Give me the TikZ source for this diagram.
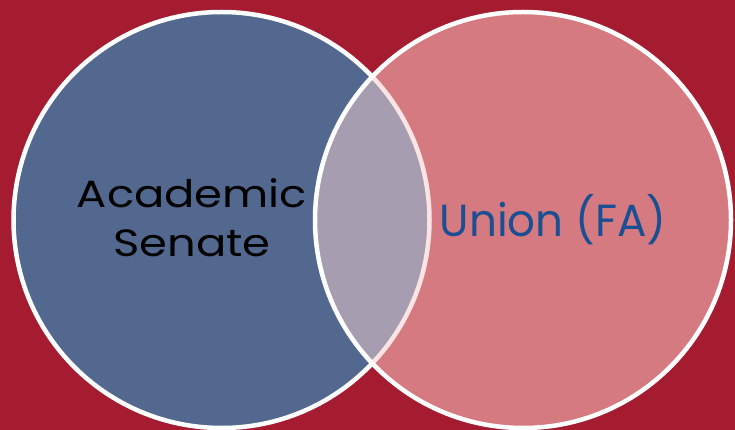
\documentclass[tikz,border=0pt]{standalone}
\usepackage{fontspec}
\setmainfont{Poppins}
\newfontfamily\senfont[FakeStretch=1.18]{Poppins}
\newfontfamily\unifont[FakeStretch=0.97]{Poppins}
\definecolor{bgred}{RGB}{165,28,48}
\definecolor{senblue}{RGB}{83,104,143}
\definecolor{unipink}{RGB}{212,122,128}
\definecolor{lavender}{RGB}{166,157,177}
\definecolor{palepink}{RGB}{252,228,228}
\definecolor{textblue}{RGB}{27,79,147}
\tikzset{
  ring/.style={line width=4.5pt},
}
\begin{document}
\begin{tikzpicture}[x=1pt,y=-1pt]
\fill[bgred] (0,0) rectangle (735,430);
\useasboundingbox (0,0) rectangle (735,430);
\coordinate (lc) at (221.5,220);
\coordinate (rc) at (523,220);
% left circle
\fill[senblue] (lc) circle[radius=208];
\draw[ring,white] (lc) circle[radius=208];
% right circle
\fill[unipink] (rc) circle[radius=208];
\begin{scope}
  \clip (rc) circle[radius=208];
  \fill[lavender] (lc) circle[radius=208];
  \draw[ring,palepink] (lc) circle[radius=208];
\end{scope}
\draw[ring,white] (rc) circle[radius=208];
% labels
\node[align=center, font=\senfont\fontsize{38}{49}\selectfont, text=black, inner sep=0pt] (sen) at (192,218) {Academic\\Senate};
\node[font=\unifont\fontsize{45}{54}\selectfont, text=textblue, inner sep=0pt] (uni) at (553,220) {Union (FA)};
\end{tikzpicture}
\end{document}
